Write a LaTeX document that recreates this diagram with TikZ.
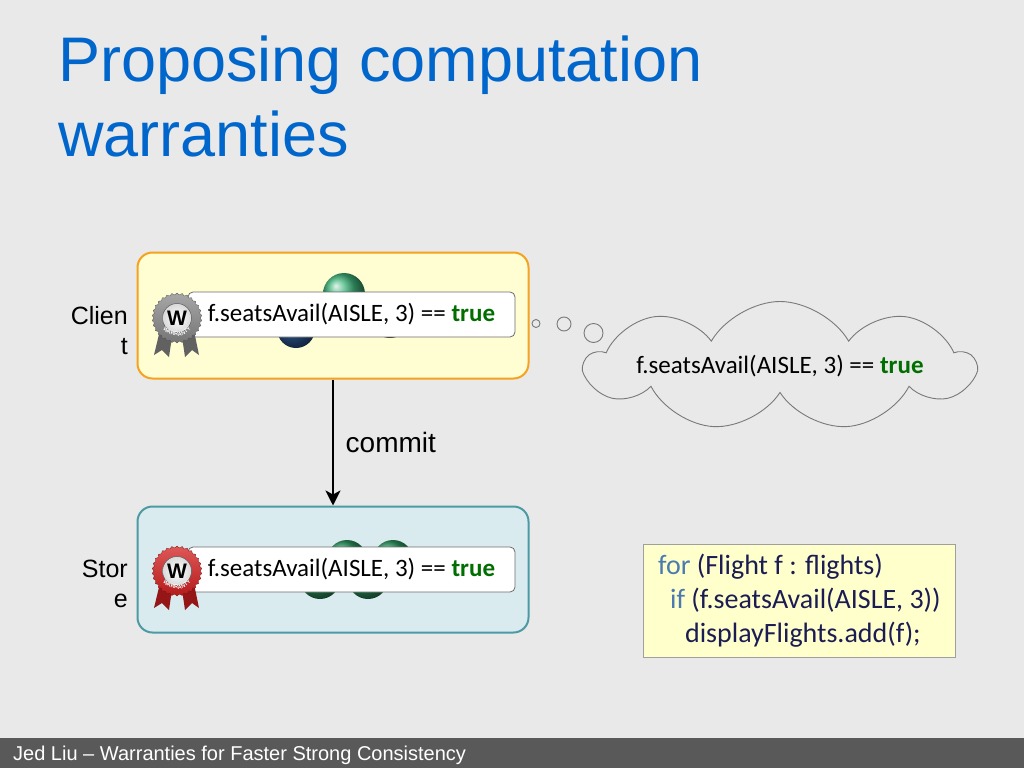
\documentclass[tikz,border=0pt]{standalone}
\usepackage{fontspec}
\setmainfont{Liberation Sans}
\newfontfamily\calibri{Carlito}
\usetikzlibrary{arrows.meta,positioning,shapes.geometric,shapes.symbols,decorations.text}
\definecolor{slidebg}{HTML}{E9E9E9}
\definecolor{footerbg}{HTML}{595959}
\definecolor{titleblue}{HTML}{0066CC}
\definecolor{clientfill}{HTML}{FFFDD2}
\definecolor{clientline}{HTML}{F5A21E}
\definecolor{storefill}{HTML}{DAEBEF}
\definecolor{storeline}{HTML}{4C9AA3}
\definecolor{truegreen}{HTML}{006E00}
\definecolor{codefill}{HTML}{FFFFCC}
\definecolor{kwblue}{HTML}{4A7AB0}
\definecolor{codenavy}{HTML}{1C1C54}
\definecolor{sealgray}{HTML}{8A8A8A}
\definecolor{sealred}{HTML}{D42020}
\definecolor{ballgreen}{HTML}{3FB37A}
\definecolor{storegreen}{HTML}{2E9A62}
\definecolor{ballblue}{HTML}{2E5C9A}
\definecolor{ballbrown}{HTML}{5A3A2A}
\newcommand{\trueword}{{\bfseries\color{truegreen}true}}
\newcommand{\kw}[1]{{\color{kwblue}#1}}
\tikzset{
  box/.style={rounded corners=15pt, line width=2pt, minimum width=391pt, minimum height=126pt},
  clientbox/.style={box, draw=clientline, fill=clientfill},
  storebox/.style={box, draw=storeline, fill=storefill},
  sidelabel/.style={anchor=east, align=right, inner sep=0pt, font=\fontsize{25}{30}\selectfont},
  wbox/.style={draw=gray!85!black, fill=white, rounded corners=5pt, line width=0.8pt,
    minimum width=327pt, minimum height=45pt, inner sep=0pt, font=\calibri\fontsize{25}{30}\selectfont},
  commitarrow/.style={-{Stealth[length=15pt,width=15pt,inset=4pt]}, line width=2.7pt},
  thought/.style={cloud, cloud puffs=9, cloud puff arc=120, cloud ignores aspect, draw=gray!95!black,
    fill=slidebg, line width=0.9pt, inner sep=0pt, minimum width=376pt, minimum height=129pt,
    font=\calibri\fontsize{25}{30}\selectfont},
  bubble/.style={draw=gray!95!black, fill=slidebg, line width=0.9pt},
  codebox/.style={draw=gray!75, fill=codefill, line width=0.8pt, align=left, text=codenavy,
    inner xsep=10pt, inner ysep=6pt, minimum width=312pt, minimum height=113pt,
    font=\calibri\fontsize{28}{34}\selectfont},
  pics/seal/.style={code={
    \fill[#1!70!black] (-16,8) -- (-4,12) -- (-8,39) -- (-15,32) -- (-23,37) -- cycle; %左リボン
    \fill[#1!70!black] (16,8) -- (4,12) -- (8,39) -- (15,32) -- (22,37) -- cycle; %右リボン
    \node[star, star points=30, star point ratio=1.08, minimum size=50pt, inner sep=0pt,
      top color=#1!75!white, bottom color=#1!85!black, draw=#1!60!black, line width=0.3pt] {};
    \shade[inner color=white, outer color=gray!30, draw=gray!70!black, line width=0.5pt] (0,0) circle (14.5);
    \node[font=\fontsize{21}{21}\selectfont\bfseries, inner sep=0pt] at (0,0.5) {W};
    \path[decorate, decoration={text along path, text align=center,
      text={|\fontsize{5.5}{6}\selectfont\bfseries\color{white}|WARRANTY}}] (160:18) arc (160:20:18);
  }}
}
\begin{document}
\begin{tikzpicture}[x=1pt,y=-1pt]
  \useasboundingbox (0,0) rectangle (1024,768);
  \fill[slidebg] (0,0) rectangle (1024,768); %背景
  \fill[footerbg] (0,738) rectangle (1024,768); %フッター

  \node[anchor=north west, align=left, inner sep=0pt, text=titleblue,
    font=\fontsize{63}{75}\selectfont] (title) at (58,36) {Proposing computation\\warranties};
  \node[anchor=base west, inner sep=0pt, text=white, font=\fontsize{20}{24}\selectfont]
    (footer) at (13,760) {Jed Liu – Warranties for Faster Strong Consistency};

  \node[clientbox] (client) at (333,315.5) {}; %クライアント
  \node[storebox] (store) at (333,569.5) {}; %ストア
  \node[sidelabel] (clientlbl) at (128,331) {Clien\\t};
  \node[sidelabel] (storelbl) at (128,584) {Stor\\e};

  \shade[ball color=ballgreen] (344,294) circle (21);
  \shade[ball color=ballblue] (296,329) circle (19);
  \shade[ball color=ballbrown] (390,318) circle (20);
  \foreach \bx/\by in {347/560,393/560,320/579,368/579}
    \shade[ball color=storegreen] (\bx,\by) circle (20);

  \node[wbox] (cw) at (351.5,314.5) {f.seatsAvail(AISLE, 3) == \trueword};
  \node[wbox] (sw) at (351.5,569.5) {f.seatsAvail(AISLE, 3) == \trueword};
  \pic at (177,318) {seal=sealgray};
  \pic at (177,571) {seal=sealred};

  \draw[commitarrow] (client) -- (store) node[midway, right=8pt, font=\fontsize{28}{30}\selectfont] (commit) {commit};

  \draw[bubble] (536,323.5) circle (4);
  \draw[bubble] (564,324) circle (7);
  \draw[bubble] (593.5,333) circle (9.5);
  \node[thought] (cloud) at (780,366) {f.seatsAvail(AISLE, 3) == \trueword};

  \node[codebox, anchor=north west] (code) at (643,544)
    {\kw{for} (Flight f : flights)\\\hspace*{12pt}\kw{if} (f.seatsAvail(AISLE, 3))\\\hspace*{27pt}displayFlights.add(f);};
\end{tikzpicture}
\end{document}
